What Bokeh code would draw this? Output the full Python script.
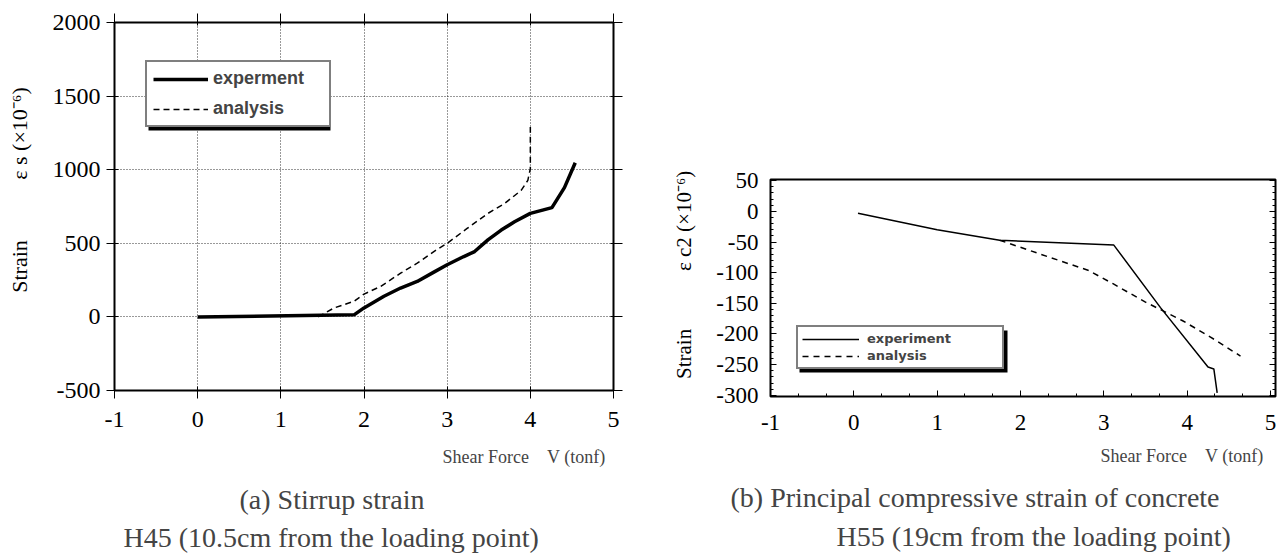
from bokeh.plotting import figure
from bokeh.models import (Title, Legend, LegendItem, LinearAxis, FixedTicker, Spacer,
                          CustomJSTickFormatter, BoxAnnotation)
from bokeh.layouts import row, column
from bokeh.embed import file_html
from bokeh.resources import INLINE

# ---------- data: (a) stirrup strain, H45 ----------
a_exp_v = [0, 1.88, 2.0, 2.24, 2.44, 2.64, 2.84, 3.0, 3.2, 3.33, 3.49, 3.65, 3.81, 4.0, 4.26, 4.41, 4.54]
a_exp_s = [0, 14, 61, 140, 196, 241, 304, 354, 410, 444, 523, 590, 646, 703, 742, 878, 1047]
a_ana_v = [1.45, 1.64, 1.88, 2.0, 2.2, 2.44, 2.64, 2.84, 3.0, 3.24, 3.49, 3.69, 3.89, 3.97, 4.0, 4.0]
a_ana_s = [0, 61, 106, 155, 207, 297, 365, 444, 500, 601, 703, 770, 860, 928, 1007, 1290]
a_xticks = [-1, 0, 1, 2, 3, 4, 5]
a_yticks = [-500, 0, 500, 1000, 1500, 2000]

# ---------- data: (b) principal compressive strain, H55 ----------
b_exp_v = [0.05, 1.0, 1.75, 3.12, 3.68, 4.25, 4.32, 4.36]
b_exp_s = [-3, -30, -47, -55, -157, -254, -257, -296]
b_ana_v = [1.75, 2.33, 2.81, 3.11, 3.50, 3.94, 4.28, 4.64]
b_ana_s = [-47, -74, -96, -118, -148, -178, -205, -236]
b_xticks = [-1, 0, 1, 2, 3, 4, 5]
b_yticks = [-300, -250, -200, -150, -100, -50, 0, 50]
b_xminor = [-1 + k / 3 for k in range(0, 19)]
b_yminor = list(range(-300, 51, 10))

SERIF = "Liberation Serif"
SANS = "Liberation Sans"
NB = "\u00a0"

plain = CustomJSTickFormatter(code="return tick.toString()")
blank = CustomJSTickFormatter(code="return ''")


def style_axis(ax, size="24px"):
    ax.formatter = plain
    ax.major_label_text_font = SERIF
    ax.major_label_text_font_size = size
    ax.major_label_text_color = "black"
    ax.axis_line_color = "black"
    ax.major_tick_line_color = "black"
    ax.minor_tick_line_color = "black"
    ax.axis_label_text_font = SERIF
    ax.axis_label_text_font_style = "normal"
    ax.axis_label_text_color = "black"


def mirror_axis(ticks, minor, tin, tout, mtin=0):
    ax = LinearAxis(ticker=FixedTicker(ticks=ticks, minor_ticks=minor), formatter=blank,
                    major_tick_in=tin, major_tick_out=tout, minor_tick_in=mtin, minor_tick_out=0,
                    major_label_standoff=0, axis_line_color="black",
                    major_tick_line_color="black", minor_tick_line_color="black")
    if not minor:
        ax.minor_tick_line_color = None
    return ax


# ================= left figure =================
p1 = figure(width=640, height=556, x_range=(-1, 5), y_range=(-500, 2000),
            output_backend="svg", toolbar_location=None,
            min_border_left=114, min_border_right=27, min_border_top=22, min_border_bottom=166)
p1.outline_line_color = "black"
p1.outline_line_width = 2
p1.xaxis.ticker = FixedTicker(ticks=a_xticks)
p1.yaxis.ticker = FixedTicker(ticks=a_yticks)
for ax in (p1.xaxis[0], p1.yaxis[0]):
    style_axis(ax)
    ax.major_tick_in = 4
    ax.major_tick_out = 8
    ax.minor_tick_line_color = None
p1.xaxis.major_label_standoff = 13
p1.yaxis.major_label_standoff = 6
p1.yaxis.axis_label = NB * 6 + "Strain" + NB * 11 + "ε" + NB + "s" + NB + "(×10⁻⁶)"
p1.yaxis.axis_label_text_font_size = "22px"
p1.yaxis.axis_label_standoff = 18
p1.add_layout(mirror_axis(a_yticks, [], 3, 9), "right")
p1.add_layout(mirror_axis(a_xticks, [], 3, 9), "above")
for g in (p1.xgrid[0], p1.ygrid[0]):
    g.grid_line_color = "black"
    g.grid_line_dash = "1 2"
    g.grid_line_width = 1
    g.grid_line_alpha = 0.8

r1 = p1.line(a_exp_v, a_exp_s, line_color="black", line_width=3.5)
r2 = p1.line(a_ana_v, a_ana_s, line_color="black", line_width=1.5, line_dash="6 4")
p1.add_layout(BoxAnnotation(left=34, right=216, bottom=260, top=327,
                            left_units="screen", right_units="screen",
                            bottom_units="screen", top_units="screen",
                            fill_color="black", fill_alpha=1, line_color=None))
leg1 = Legend(items=[LegendItem(label="experment", renderers=[r1]),
                     LegendItem(label="analysis", renderers=[r2])],
              location=(31, 263), border_line_color="black", border_line_width=2,
              label_text_font=SANS, label_text_font_style="bold", label_text_font_size="18px",
              glyph_width=55, glyph_height=20, label_height=20, label_width=110,
              label_standoff=5, spacing=9, padding=6, margin=0,
              background_fill_color="white", background_fill_alpha=1)
p1.add_layout(leg1, "center")

p1.add_layout(Title(text="Shear Force" + NB * 4 + "V (tonf)", align="right", offset=8,
                    text_font=SERIF, text_font_size="18px", text_font_style="normal",
                    standoff=30), "below")
p1.add_layout(Title(text="(a) Stirrup strain", align="left", offset=125, text_font=SERIF,
                    text_font_size="28px", text_font_style="normal", standoff=1), "below")
p1.add_layout(Title(text="H45 (10.5cm from the loading point)", align="left", offset=9,
                    text_font=SERIF, text_font_size="28px", text_font_style="normal",
                    standoff=8), "below")

# ================= right figure =================
p2 = figure(width=637, height=399, x_range=(-1, 5.06), y_range=(-302, 52),
            output_backend="svg", toolbar_location=None,
            min_border_left=130, min_border_right=2, min_border_top=22, min_border_bottom=159)
p2.outline_line_color = "black"
p2.outline_line_width = 2
p2.grid.visible = False
p2.xaxis.ticker = FixedTicker(ticks=b_xticks, minor_ticks=b_xminor)
p2.yaxis.ticker = FixedTicker(ticks=b_yticks, minor_ticks=b_yminor)
for ax in (p2.xaxis[0], p2.yaxis[0]):
    style_axis(ax, "23px")
    ax.major_tick_in = 6
    ax.major_tick_out = 0
    ax.minor_tick_in = 3
    ax.minor_tick_out = 0
p2.xaxis.major_label_standoff = 18
p2.yaxis.major_label_standoff = 12
p2.yaxis.axis_label = NB * 5 + "Strain" + NB * 11 + "ε" + NB + "c2" + NB + "(×10⁻⁶)"
p2.yaxis.axis_label_text_font_size = "21px"
p2.yaxis.axis_label_standoff = 17
p2.add_layout(mirror_axis(b_yticks, b_yminor, 6, 0, 3), "right")

q1 = p2.line(b_exp_v, b_exp_s, line_color="black", line_width=1.5)
q2 = p2.line(b_ana_v, b_ana_s, line_color="black", line_width=1.5, line_dash="6 5")
p2.add_layout(BoxAnnotation(left=29, right=237, bottom=24, top=66,
                            left_units="screen", right_units="screen",
                            bottom_units="screen", top_units="screen",
                            fill_color="black", fill_alpha=1, line_color=None))
leg2 = Legend(items=[LegendItem(label="experiment", renderers=[q1]),
                     LegendItem(label="analysis", renderers=[q2])],
              location=(26, 27), border_line_color="black", border_line_width=2,
              label_text_font="DejaVu Sans", label_text_font_style="bold", label_text_font_size="13px",
              glyph_width=57, glyph_height=14, label_height=14, label_width=131,
              label_standoff=8, spacing=2, padding=4, margin=0,
              background_fill_color="white", background_fill_alpha=1)
p2.add_layout(leg2, "center")

p2.add_layout(Title(text="Shear Force" + NB * 4 + "V (tonf)", align="right", offset=12,
                    text_font=SERIF, text_font_size="18px", text_font_style="normal",
                    standoff=23), "below")
p2.add_layout(Title(text="(b) Principal compressive strain of concrete", align="left", offset=-40,
                    text_font=SERIF, text_font_size="28px", text_font_style="normal",
                    standoff=4), "below")
p2.add_layout(Title(text="H55 (19cm from the loading point)", align="left", offset=66,
                    text_font=SERIF, text_font_size="28px", text_font_style="normal",
                    standoff=9), "below")

layout = row(p1, column(Spacer(width=637, height=157), p2))
open("out.html", "w").write(file_html(layout, INLINE))
